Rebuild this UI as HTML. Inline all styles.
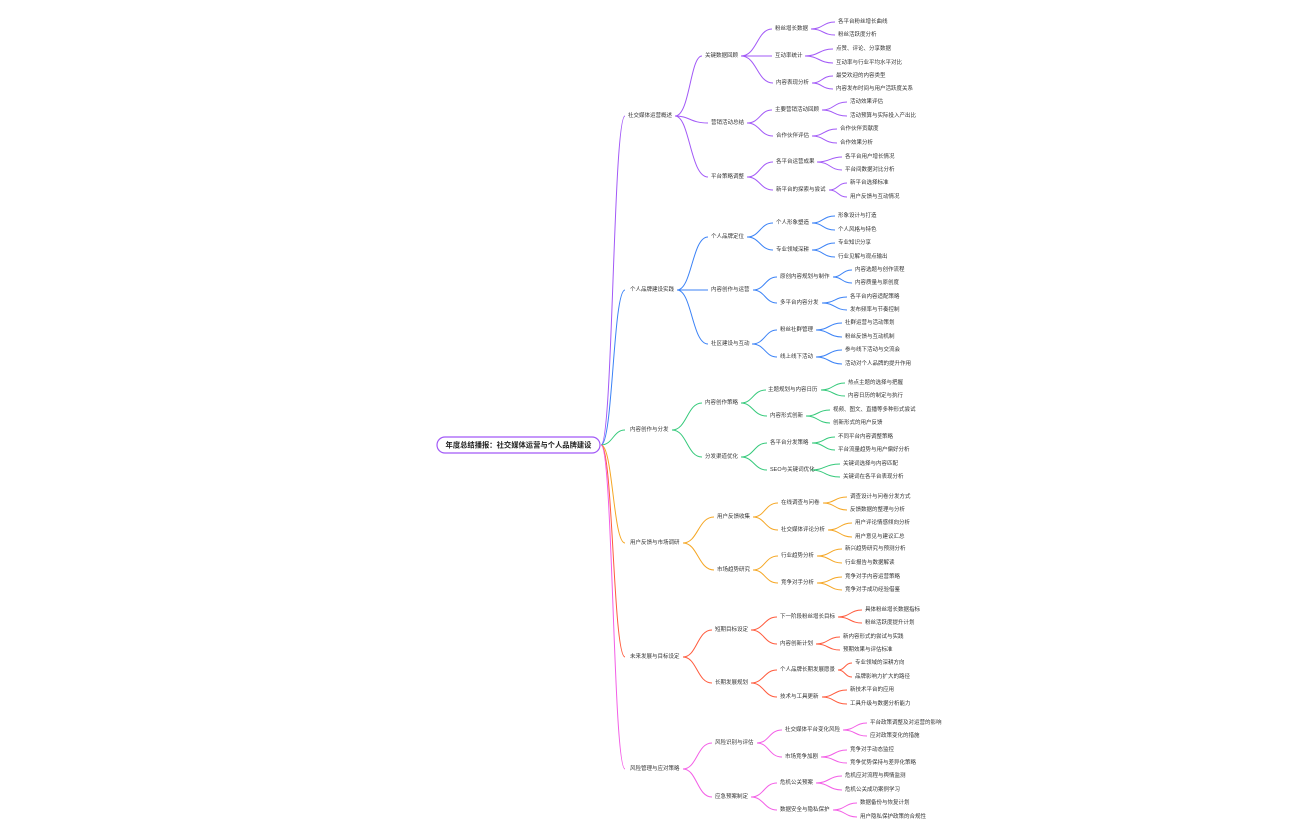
<!DOCTYPE html>
<html><head><meta charset="utf-8"><style>
html,body{margin:0;padding:0;background:#fff;}
svg{display:block}
text{font-family:"Liberation Sans","Noto Sans CJK SC",sans-serif;font-size:5.5px;fill:#333;dominant-baseline:central}
path{fill:none;stroke-width:1}
</style></head><body>
<svg width="1296" height="840" viewBox="0 0 1296 840" xmlns="http://www.w3.org/2000/svg">
<!-- root edges -->
<path stroke="#a259f7" d="M601 445C613 445 613 116 625 116"/>
<path stroke="#3b82f6" d="M601 445C613 445 613 290 625 290"/>
<path stroke="#34c97a" d="M601 445C613 445 613 430 625 430"/>
<path stroke="#f5a623" d="M601 445C613 445 613 543 625 543"/>
<path stroke="#ff5a3c" d="M601 445C613 445 613 657 625 657"/>
<path stroke="#f35ee6" d="M601 445C613 445 613 769 625 769"/>
<rect x="437" y="437" width="163" height="16" rx="8" fill="#fff" stroke="#a259f7" stroke-width="1.2"/>
<text x="518.5" y="445" text-anchor="middle" style="font-size:7.3px;font-weight:bold;fill:#222">年度总结播报：社交媒体运营与个人品牌建设</text>

<!-- B1 purple -->
<g stroke="#a259f7">
<path d="M675 116C690 116 690 56 702 56"/><path d="M675 116C690 116 690 123 708 123"/><path d="M675 116C690 116 690 177 708 177"/>
<path d="M741 56C757 56 757 29 772 29"/><path d="M741 56C757 56 757 56 772 56"/><path d="M741 56C757 56 757 83 773 83"/>
<path d="M811 29C823 29 823 22 835 22"/><path d="M811 29C823 29 823 35 835 35"/>
<path d="M805 56C819 56 819 49 833 49"/><path d="M805 56C819 56 819 63 833 63"/>
<path d="M812 83C822 83 822 76 833 76"/><path d="M812 83C822 83 822 89 833 89"/>
<path d="M747 123C760 123 760 110 772 110"/><path d="M747 123C760 123 760 136 773 136"/>
<path d="M822 110C834 110 834 102 847 102"/><path d="M822 110C834 110 834 116 847 116"/>
<path d="M812 136C824 136 824 129 837 129"/><path d="M812 136C824 136 824 143 837 143"/>
<path d="M747 177C760 177 760 162 773 162"/><path d="M747 177C760 177 760 190 773 190"/>
<path d="M817 162C830 162 830 157 842 157"/><path d="M817 162C830 162 830 170 842 170"/>
<path d="M829 190C838 190 838 183 847 183"/><path d="M829 190C838 190 838 197 847 197"/>
</g>
<text x="628" y="116">社交媒体运营概述</text>
<text x="705" y="56">关键数据回顾</text><text x="711" y="123">营销活动总结</text><text x="711" y="177">平台策略调整</text>
<text x="775" y="29">粉丝增长数据</text><text x="775" y="56">互动率统计</text><text x="776" y="83">内容表现分析</text>
<text x="775" y="110">主要营销活动回顾</text><text x="776" y="136">合作伙伴评估</text>
<text x="776" y="162">各平台运营成果</text><text x="776" y="190">新平台的探索与尝试</text>
<text x="838" y="22">各平台粉丝增长曲线</text><text x="838" y="35">粉丝活跃度分析</text>
<text x="836" y="49">点赞、评论、分享数据</text><text x="836" y="63">互动率与行业平均水平对比</text>
<text x="836" y="76">最受欢迎的内容类型</text><text x="836" y="89">内容发布时间与用户活跃度关系</text>
<text x="850" y="102">活动效果评估</text><text x="850" y="116">活动预算与实际投入产出比</text>
<text x="840" y="129">合作伙伴贡献度</text><text x="840" y="143">合作效果分析</text>
<text x="845" y="157">各平台用户增长情况</text><text x="845" y="170">平台间数据对比分析</text>
<text x="850" y="183">新平台选择标准</text><text x="850" y="197">用户反馈与互动情况</text>

<!-- B2 blue -->
<g stroke="#3b82f6">
<path d="M677 290C692 290 692 237 708 237"/><path d="M677 290C692 290 692 290 708 290"/><path d="M677 290C692 290 692 344 708 344"/>
<path d="M747 237C760 237 760 223 773 223"/><path d="M747 237C760 237 760 250 773 250"/>
<path d="M812 223C823 223 823 216 835 216"/><path d="M812 223C823 223 823 230 835 230"/>
<path d="M812 250C823 250 823 243 835 243"/><path d="M812 250C823 250 823 257 835 257"/>
<path d="M753 290C765 290 765 277 777 277"/><path d="M753 290C765 290 765 303 777 303"/>
<path d="M833 277C842 277 842 270 852 270"/><path d="M833 277C842 277 842 283 852 283"/>
<path d="M822 303C835 303 835 297 847 297"/><path d="M822 303C835 303 835 310 847 310"/>
<path d="M752 344C765 344 765 330 777 330"/><path d="M752 344C765 344 765 357 777 357"/>
<path d="M816 330C829 330 829 323 842 323"/><path d="M816 330C829 330 829 337 842 337"/>
<path d="M816 357C829 357 829 350 842 350"/><path d="M816 357C829 357 829 364 842 364"/>
</g>
<text x="630" y="290">个人品牌建设实践</text>
<text x="711" y="237">个人品牌定位</text><text x="711" y="290">内容创作与运营</text><text x="711" y="344">社区建设与互动</text>
<text x="776" y="223">个人形象塑造</text><text x="776" y="250">专业领域深耕</text>
<text x="780" y="277">原创内容规划与制作</text><text x="780" y="303">多平台内容分发</text>
<text x="780" y="330">粉丝社群管理</text><text x="780" y="357">线上线下活动</text>
<text x="838" y="216">形象设计与打造</text><text x="838" y="230">个人风格与特色</text>
<text x="838" y="243">专业知识分享</text><text x="838" y="257">行业见解与观点输出</text>
<text x="855" y="270">内容选题与创作流程</text><text x="855" y="283">内容质量与原创度</text>
<text x="850" y="297">各平台内容适配策略</text><text x="850" y="310">发布频率与节奏控制</text>
<text x="845" y="323">社群运营与活动策划</text><text x="845" y="337">粉丝反馈与互动机制</text>
<text x="845" y="350">参与线下活动与交流会</text><text x="845" y="364">活动对个人品牌的提升作用</text>

<!-- B3 green -->
<g stroke="#34c97a">
<path d="M672 430C687 430 687 403 702 403"/><path d="M672 430C687 430 687 457 702 457"/>
<path d="M741 403C753 403 753 390 766 390"/><path d="M741 403C753 403 753 416 767 416"/>
<path d="M821 390C833 390 833 383 845 383"/><path d="M821 390C833 390 833 396 845 396"/>
<path d="M806 416C818 416 818 410 830 410"/><path d="M806 416C818 416 818 423 830 423"/>
<path d="M741 457C754 457 754 443 767 443"/><path d="M741 457C754 457 754 470 767 470"/>
<path d="M812 443C824 443 824 437 835 437"/><path d="M812 443C824 443 824 450 835 450"/>
<path d="M811 470C825 470 825 464 840 464"/><path d="M811 470C825 470 825 477 840 477"/>
</g>
<text x="630" y="430">内容创作与分发</text>
<text x="705" y="403">内容创作策略</text><text x="705" y="457">分发渠道优化</text>
<text x="768" y="390">主题规划与内容日历</text><text x="770" y="416">内容形式创新</text>
<text x="770" y="443">各平台分发策略</text><text x="770" y="470">SEO与关键词优化</text>
<text x="848" y="383">热点主题的选择与把握</text><text x="848" y="396">内容日历的制定与执行</text>
<text x="833" y="410">视频、图文、直播等多种形式尝试</text><text x="833" y="423">创新形式的用户反馈</text>
<text x="838" y="437">不同平台内容调整策略</text><text x="838" y="450">平台流量趋势与用户偏好分析</text>
<text x="843" y="464">关键词选择与内容匹配</text><text x="843" y="477">关键词在各平台表现分析</text>

<!-- B4 orange -->
<g stroke="#f5a623">
<path d="M683 543C698 543 698 517 714 517"/><path d="M683 543C698 543 698 570 714 570"/>
<path d="M753 517C765 517 765 503 778 503"/><path d="M753 517C765 517 765 530 778 530"/>
<path d="M823 503C835 503 835 497 847 497"/><path d="M823 503C835 503 835 510 847 510"/>
<path d="M828 530C840 530 840 523 852 523"/><path d="M828 530C840 530 840 537 852 537"/>
<path d="M753 570C765 570 765 556 778 556"/><path d="M753 570C765 570 765 583 778 583"/>
<path d="M817 556C830 556 830 549 842 549"/><path d="M817 556C830 556 830 563 842 563"/>
<path d="M817 583C830 583 830 577 842 577"/><path d="M817 583C830 583 830 590 842 590"/>
</g>
<text x="630" y="543">用户反馈与市场调研</text>
<text x="717" y="517">用户反馈收集</text><text x="717" y="570">市场趋势研究</text>
<text x="781" y="503">在线调查与问卷</text><text x="781" y="530">社交媒体评论分析</text>
<text x="781" y="556">行业趋势分析</text><text x="781" y="583">竞争对手分析</text>
<text x="850" y="497">调查设计与问卷分发方式</text><text x="850" y="510">反馈数据的整理与分析</text>
<text x="855" y="523">用户评论情感倾向分析</text><text x="855" y="537">用户意见与建议汇总</text>
<text x="845" y="549">新兴趋势研究与预测分析</text><text x="845" y="563">行业报告与数据解读</text>
<text x="845" y="577">竞争对手内容运营策略</text><text x="845" y="590">竞争对手成功经验借鉴</text>

<!-- B5 red -->
<g stroke="#ff5a3c">
<path d="M683 657C697 657 697 630 712 630"/><path d="M683 657C697 657 697 683 712 683"/>
<path d="M751 630C764 630 764 617 777 617"/><path d="M751 630C764 630 764 644 777 644"/>
<path d="M838 617C850 617 850 610 862 610"/><path d="M838 617C850 617 850 623 862 623"/>
<path d="M816 644C828 644 828 637 840 637"/><path d="M816 644C828 644 828 650 840 650"/>
<path d="M751 683C764 683 764 670 777 670"/><path d="M751 683C764 683 764 697 777 697"/>
<path d="M838 670C845 670 845 663 852 663"/><path d="M838 670C845 670 845 677 852 677"/>
<path d="M822 697C834 697 834 690 847 690"/><path d="M822 697C834 697 834 704 847 704"/>
</g>
<text x="630" y="657">未来发展与目标设定</text>
<text x="715" y="630">短期目标设定</text><text x="715" y="683">长期发展规划</text>
<text x="780" y="617">下一阶段粉丝增长目标</text><text x="780" y="644">内容创新计划</text>
<text x="780" y="670">个人品牌长期发展愿景</text><text x="780" y="697">技术与工具更新</text>
<text x="865" y="610">具体粉丝增长数据指标</text><text x="865" y="623">粉丝活跃度提升计划</text>
<text x="843" y="637">新内容形式的尝试与实践</text><text x="843" y="650">预期效果与评估标准</text>
<text x="855" y="663">专业领域的深耕方向</text><text x="855" y="677">品牌影响力扩大的路径</text>
<text x="850" y="690">新技术平台的应用</text><text x="850" y="704">工具升级与数据分析能力</text>

<!-- B6 pink -->
<g stroke="#f35ee6">
<path d="M683 769C697 769 697 743 712 743"/><path d="M683 769C697 769 697 797 712 797"/>
<path d="M757 743C769 743 769 730 782 730"/><path d="M757 743C769 743 769 757 782 757"/>
<path d="M843 730C855 730 855 723 867 723"/><path d="M843 730C855 730 855 736 867 736"/>
<path d="M821 757C834 757 834 750 847 750"/><path d="M821 757C834 757 834 763 847 763"/>
<path d="M751 797C764 797 764 783 777 783"/><path d="M751 797C764 797 764 810 777 810"/>
<path d="M816 783C829 783 829 776 842 776"/><path d="M816 783C829 783 829 790 842 790"/>
<path d="M833 810C845 810 845 803 857 803"/><path d="M833 810C845 810 845 817 857 817"/>
</g>
<text x="630" y="769">风险管理与应对策略</text>
<text x="715" y="743">风险识别与评估</text><text x="715" y="797">应急预案制定</text>
<text x="785" y="730">社交媒体平台变化风险</text><text x="785" y="757">市场竞争加剧</text>
<text x="780" y="783">危机公关预案</text><text x="780" y="810">数据安全与隐私保护</text>
<text x="870" y="723">平台政策调整及对运营的影响</text><text x="870" y="736">应对政策变化的措施</text>
<text x="850" y="750">竞争对手动态监控</text><text x="850" y="763">竞争优势保持与差异化策略</text>
<text x="845" y="776">危机应对流程与舆情监测</text><text x="845" y="790">危机公关成功案例学习</text>
<text x="860" y="803">数据备份与恢复计划</text><text x="860" y="817">用户隐私保护政策的合规性</text>
</svg>
</body></html>
